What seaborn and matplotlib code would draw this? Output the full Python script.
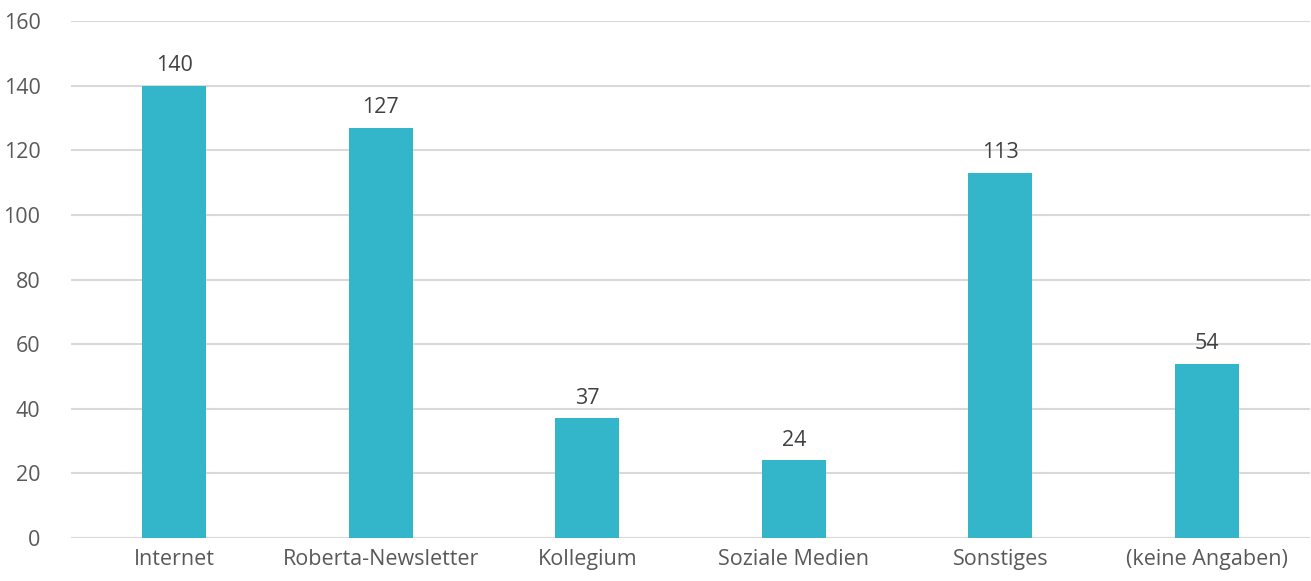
import matplotlib
matplotlib.use("Agg")
import matplotlib.pyplot as plt
import seaborn as sns
import pandas as pd

categories = ["Internet", "Roberta-Newsletter", "Kollegium", "Soziale Medien", "Sonstiges", "(keine Angaben)"]
values = [140, 127, 37, 24, 113, 54]
yticks = [0, 20, 40, 60, 80, 100, 120, 140, 160]

df = pd.DataFrame({"cat": categories, "val": values})

sns.set_theme(style="white")
plt.rcParams["font.family"] = ["Open Sans", "DejaVu Sans"]

fig = plt.figure(figsize=(13.11, 5.81), dpi=100)
ax = fig.add_axes([71/1311, 43/581, 1239/1311, 517/581])

sns.barplot(data=df, x="cat", y="val", color="#33B6C9", saturation=1, width=0.31,
            linewidth=0, edgecolor="none", ax=ax, zorder=3)

ax.set_ylim(0, 160)
ax.set_yticks(yticks)
ax.set_xlim(-0.5, len(categories) - 0.5)
ax.yaxis.grid(True, color="#D9D9D9", linewidth=1.5, zorder=0)
ax.set_axisbelow(True)
for s in ax.spines.values():
    s.set_visible(False)
ax.axhline(0, color="#D9D9D9", linewidth=1.5, zorder=1)
ax.set_xlabel("")
ax.set_ylabel("")
ax.tick_params(axis="both", length=0, labelsize=15.5, colors="#595959")
ax.tick_params(axis="y", pad=22)
ax.tick_params(axis="x", pad=8)

for c in ax.containers:
    ax.bar_label(c, labels=[str(v) for v in values], padding=7, fontsize=15.5, color="#404040")

fig.savefig("out.png", dpi=100)
